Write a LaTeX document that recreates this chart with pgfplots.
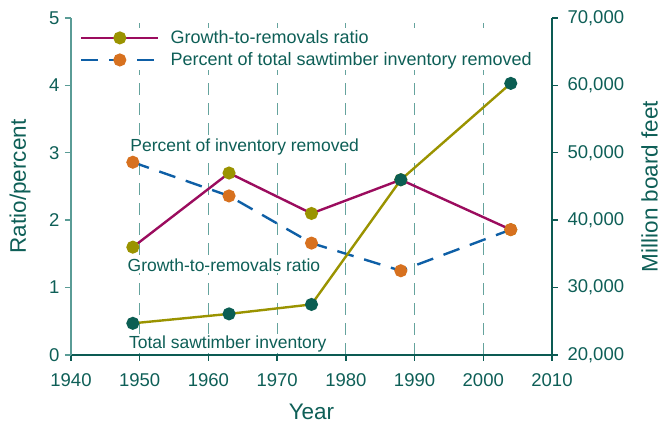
\documentclass[border=0pt]{standalone}
\usepackage{fontspec}
\setmainfont{Liberation Sans}
\usepackage{pgfplots}
\pgfplotsset{compat=1.18}
\definecolor{txtteal}{HTML}{0E5F57}
\definecolor{darkteal}{HTML}{0C5B53}
\definecolor{lightteal}{HTML}{5A9C96}
\definecolor{gridteal}{HTML}{65A39D}
\definecolor{maroon}{HTML}{9B0C5E}
\definecolor{olive}{HTML}{9A9300}
\definecolor{orangeM}{HTML}{D7711F}
\definecolor{blueL}{HTML}{0E5FA6}
\definecolor{markteal}{HTML}{0B5E53}
\begin{document}
\begin{tikzpicture}
\useasboundingbox (-71pt,-70pt) rectangle (593pt,355pt);
\pgfplotsset{
  common/.style={
    at={(0,0)}, anchor=south west, scale only axis,
    width=481pt, height=337pt,
    xmin=1940, xmax=2010,
    tick align=outside, major tick length=6pt,
    /pgf/number format/assume math mode=true,
    ticklabel style={font=\fontsize{18.5}{20}\selectfont, text=txtteal},
    label style={font=\fontsize{22.5}{24}\selectfont, text=txtteal},
  }
}
\begin{axis}[common,
  ymin=0, ymax=5,
  axis x line*=bottom, axis y line*=left,
  xtick={1940,1950,...,2010}, ytick={0,1,...,5},
  xticklabel style={yshift=-9pt, /pgf/number format/1000 sep={}},
  yticklabel style={xshift=-2pt},
  x axis line style={color=darkteal, line width=1.6pt},
  y axis line style={color=lightteal, line width=1.6pt},
  xtick style={color=darkteal, line width=1.4pt},
  ytick style={color=lightteal, line width=1.4pt},
  xmajorgrids, grid style={color=gridteal, line width=1.1pt, dash pattern=on 12pt off 8pt},
  xlabel={Year}, ylabel={Ratio/percent},
  xlabel style={at={(axis description cs:0.5,0)}, anchor=center, yshift=-57pt},
  ylabel style={at={(axis description cs:-0.106,0.5)}, anchor=center},
  legend cell align=left,
  legend style={at={(axis description cs:0.0165,0.972)}, anchor=north west,
    fill=white, draw=none, font=\fontsize{18}{20}\selectfont, text=txtteal,
    row sep=3.5pt, inner sep=1pt},
  legend image code/.code={\draw[mark repeat=2,mark phase=2,#1] plot coordinates {(0pt,0pt) (38.5pt,0pt) (77pt,0pt)}; \path (86pt,0pt);},
]
\addplot[color=maroon, line width=2.4pt, mark=*, mark size=5.3pt,
  mark options={fill=olive, draw=olive, solid}]
  coordinates {(1949,1.60) (1963,2.70) (1975,2.10) (1988,2.60) (2004,1.86)};
\addlegendentry{Growth-to-removals ratio}
\addplot[color=blueL, line width=2.4pt, dash pattern=on 17pt off 11pt, mark=*, mark size=5.3pt,
  mark options={fill=orangeM, draw=orangeM, solid}]
  coordinates {(1949,2.86) (1963,2.36) (1975,1.66) (1988,1.25) (2004,1.86)};
\addlegendentry{Percent of total sawtimber inventory removed}
\node[anchor=west, fill=white, inner sep=1.5pt, text=txtteal, font=\fontsize{17.5}{19}\selectfont]
  at (axis cs:1948.4,3.09) {Percent of inventory removed};
\node[anchor=west, fill=white, inner sep=1.5pt, text=txtteal, font=\fontsize{17.5}{19}\selectfont]
  at (axis cs:1948.0,1.33) {Growth-to-removals ratio};
\node[anchor=west, fill=white, inner sep=1.5pt, text=txtteal, font=\fontsize{17.5}{19}\selectfont]
  at (axis cs:1948.2,0.17) {Total sawtimber inventory};
\end{axis}
\begin{axis}[common,
  ymin=20000, ymax=70000,
  axis x line=none, axis y line*=right,
  ytick={20000,30000,...,70000},
  scaled y ticks=false,
  yticklabel style={xshift=6pt, /pgf/number format/.cd, 1000 sep={,}, fixed},
  y axis line style={color=darkteal, line width=1.6pt},
  ytick style={color=darkteal, line width=1.4pt},
  ylabel={Million board feet},
  ylabel style={at={(axis description cs:1.203,0.5)}, anchor=center, inner sep=1pt},
]
\addplot[color=olive, line width=2.4pt, mark=*, mark size=5.3pt,
  mark options={fill=markteal, draw=markteal}]
  coordinates {(1949,24700) (1963,26100) (1975,27500) (1988,46000) (2004,60300)};
\end{axis}
\end{tikzpicture}
\end{document}
